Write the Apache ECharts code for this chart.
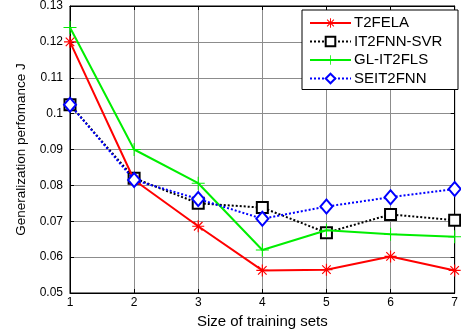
<!DOCTYPE html>
<html>
<head>
<meta charset="utf-8">
<script src="https://cdn.jsdelivr.net/npm/echarts@6/dist/echarts.min.js"></script>
<style>
  html, body { margin: 0; padding: 0; background: #fff; }
  #chart { width: 461px; height: 334px; }
</style>
</head>
<body>
<div id="chart"></div>
<script>
// Training set sizes (x positions)
const trainingSizes = [1, 2, 3, 4, 5, 6, 7];

// Generalization performance J for each method
const t2fela     = [0.1200, 0.0815, 0.0686, 0.0563, 0.0565, 0.0602, 0.0563];
const it2fnnSvr  = [0.1025, 0.0820, 0.0750, 0.0738, 0.0668, 0.0719, 0.0703];
const glIt2fls   = [0.1240, 0.0900, 0.0806, 0.0620, 0.0675, 0.0664, 0.0657];
const seit2fnn   = [0.1025, 0.0815, 0.0762, 0.0707, 0.0741, 0.0767, 0.0790];

const seriesNames = ['T2FELA', 'IT2FNN-SVR', 'GL-IT2FLS', 'SEIT2FNN'];

// Axis ticks
const yTicks = { min: 0.05, max: 0.13, step: 0.01 };
const xTicks = { min: 1, max: 7, step: 1 };

const pairs = vals => trainingSizes.map((x, i) => [x, vals[i]]);

// Marker shapes built from thin bars
const asteriskPath = 'path://M9,0h2v20h-2z M0,9h20v2h-20z M2.2,3.6l1.4,-1.4l14.2,14.2l-1.4,1.4z M16.4,2.2l1.4,1.4l-14.2,14.2l-1.4,-1.4z';
const plusPath = 'path://M9.2,0h1.6v20h-1.6z M0,9.2h20v1.6h-20z';

const font = 'Liberation Sans, Arial, sans-serif';
const gridColor = '#8c8c8c';

const inwardTicks = { show: true, inside: true, length: 4, lineStyle: { color: '#000' } };

const chart = echarts.init(document.getElementById('chart'), null, { renderer: 'canvas' });

chart.setOption({
  animation: false,
  backgroundColor: '#fff',
  textStyle: { fontFamily: font },
  grid: {
    left: 70, right: 2, top: 5, bottom: 40,
    show: true, borderColor: '#000', borderWidth: 1, backgroundColor: 'transparent'
  },
  legend: {
    orient: 'vertical',
    left: 302, top: 10,
    padding: [5, 8, 3, 7],
    itemWidth: 41, itemHeight: 12, itemGap: 2.5,
    backgroundColor: '#fff',
    borderColor: '#000', borderWidth: 1,
    textStyle: {
      fontFamily: font, fontSize: 15, lineHeight: 16, color: '#000',
      width: 96, padding: [0, 0, 0, -2]
    },
    data: seriesNames
  },
  xAxis: [
    {
      type: 'value',
      min: xTicks.min, max: xTicks.max, interval: xTicks.step,
      name: 'Size of training sets',
      nameLocation: 'middle', nameGap: 21,
      nameTextStyle: { fontFamily: font, fontSize: 15, color: '#000' },
      axisLine: { show: true, lineStyle: { color: '#000', width: 1 } },
      axisTick: inwardTicks,
      axisLabel: { fontFamily: font, fontSize: 12, color: '#000', margin: 4 },
      splitLine: { show: true, lineStyle: { color: gridColor, width: 1 } }
    },
    {
      type: 'value', position: 'top',
      min: xTicks.min, max: xTicks.max, interval: xTicks.step,
      axisLine: { show: true, lineStyle: { color: '#000', width: 1 } },
      axisTick: inwardTicks,
      axisLabel: { show: false },
      splitLine: { show: false }
    }
  ],
  yAxis: [
    {
      type: 'value',
      min: yTicks.min, max: yTicks.max, interval: yTicks.step,
      name: 'Generalization perfomance J',
      nameLocation: 'middle', nameGap: 38,
      nameTextStyle: { fontFamily: font, fontSize: 13.5, color: '#000' },
      axisLine: { show: true, lineStyle: { color: '#000', width: 1 } },
      axisTick: inwardTicks,
      axisLabel: {
        fontFamily: font, fontSize: 12, color: '#000', margin: 7,
        formatter: v => String(parseFloat(v.toFixed(2)))
      },
      splitLine: { show: true, lineStyle: { color: gridColor, width: 1 } }
    },
    {
      type: 'value', position: 'right',
      min: yTicks.min, max: yTicks.max, interval: yTicks.step,
      axisLine: { show: true, lineStyle: { color: '#000', width: 1 } },
      axisTick: inwardTicks,
      axisLabel: { show: false },
      splitLine: { show: false }
    }
  ],
  series: [
    {
      name: seriesNames[0], type: 'line', data: pairs(t2fela),
      symbol: asteriskPath, symbolSize: 12,
      itemStyle: { color: '#ff0000' },
      lineStyle: { color: '#ff0000', width: 2, type: 'solid' },
      z: 4
    },
    {
      name: seriesNames[1], type: 'line', data: pairs(it2fnnSvr),
      symbol: 'emptyRect', symbolSize: 11,
      itemStyle: { color: '#000', borderWidth: 1.8 },
      lineStyle: { color: '#000', width: 2, type: [2, 2] },
      z: 2
    },
    {
      name: seriesNames[2], type: 'line', data: pairs(glIt2fls),
      symbol: plusPath, symbolSize: 13,
      itemStyle: { color: '#00ee00' },
      lineStyle: { color: '#00ee00', width: 2, type: 'solid' },
      z: 3
    },
    {
      name: seriesNames[3], type: 'line', data: pairs(seit2fnn),
      symbol: 'emptyDiamond', symbolSize: [12, 14],
      itemStyle: { color: '#0000ff', borderWidth: 1.8 },
      lineStyle: { color: '#0000ff', width: 2, type: [2, 2] },
      z: 5
    }
  ]
});
</script>
</body>
</html>
